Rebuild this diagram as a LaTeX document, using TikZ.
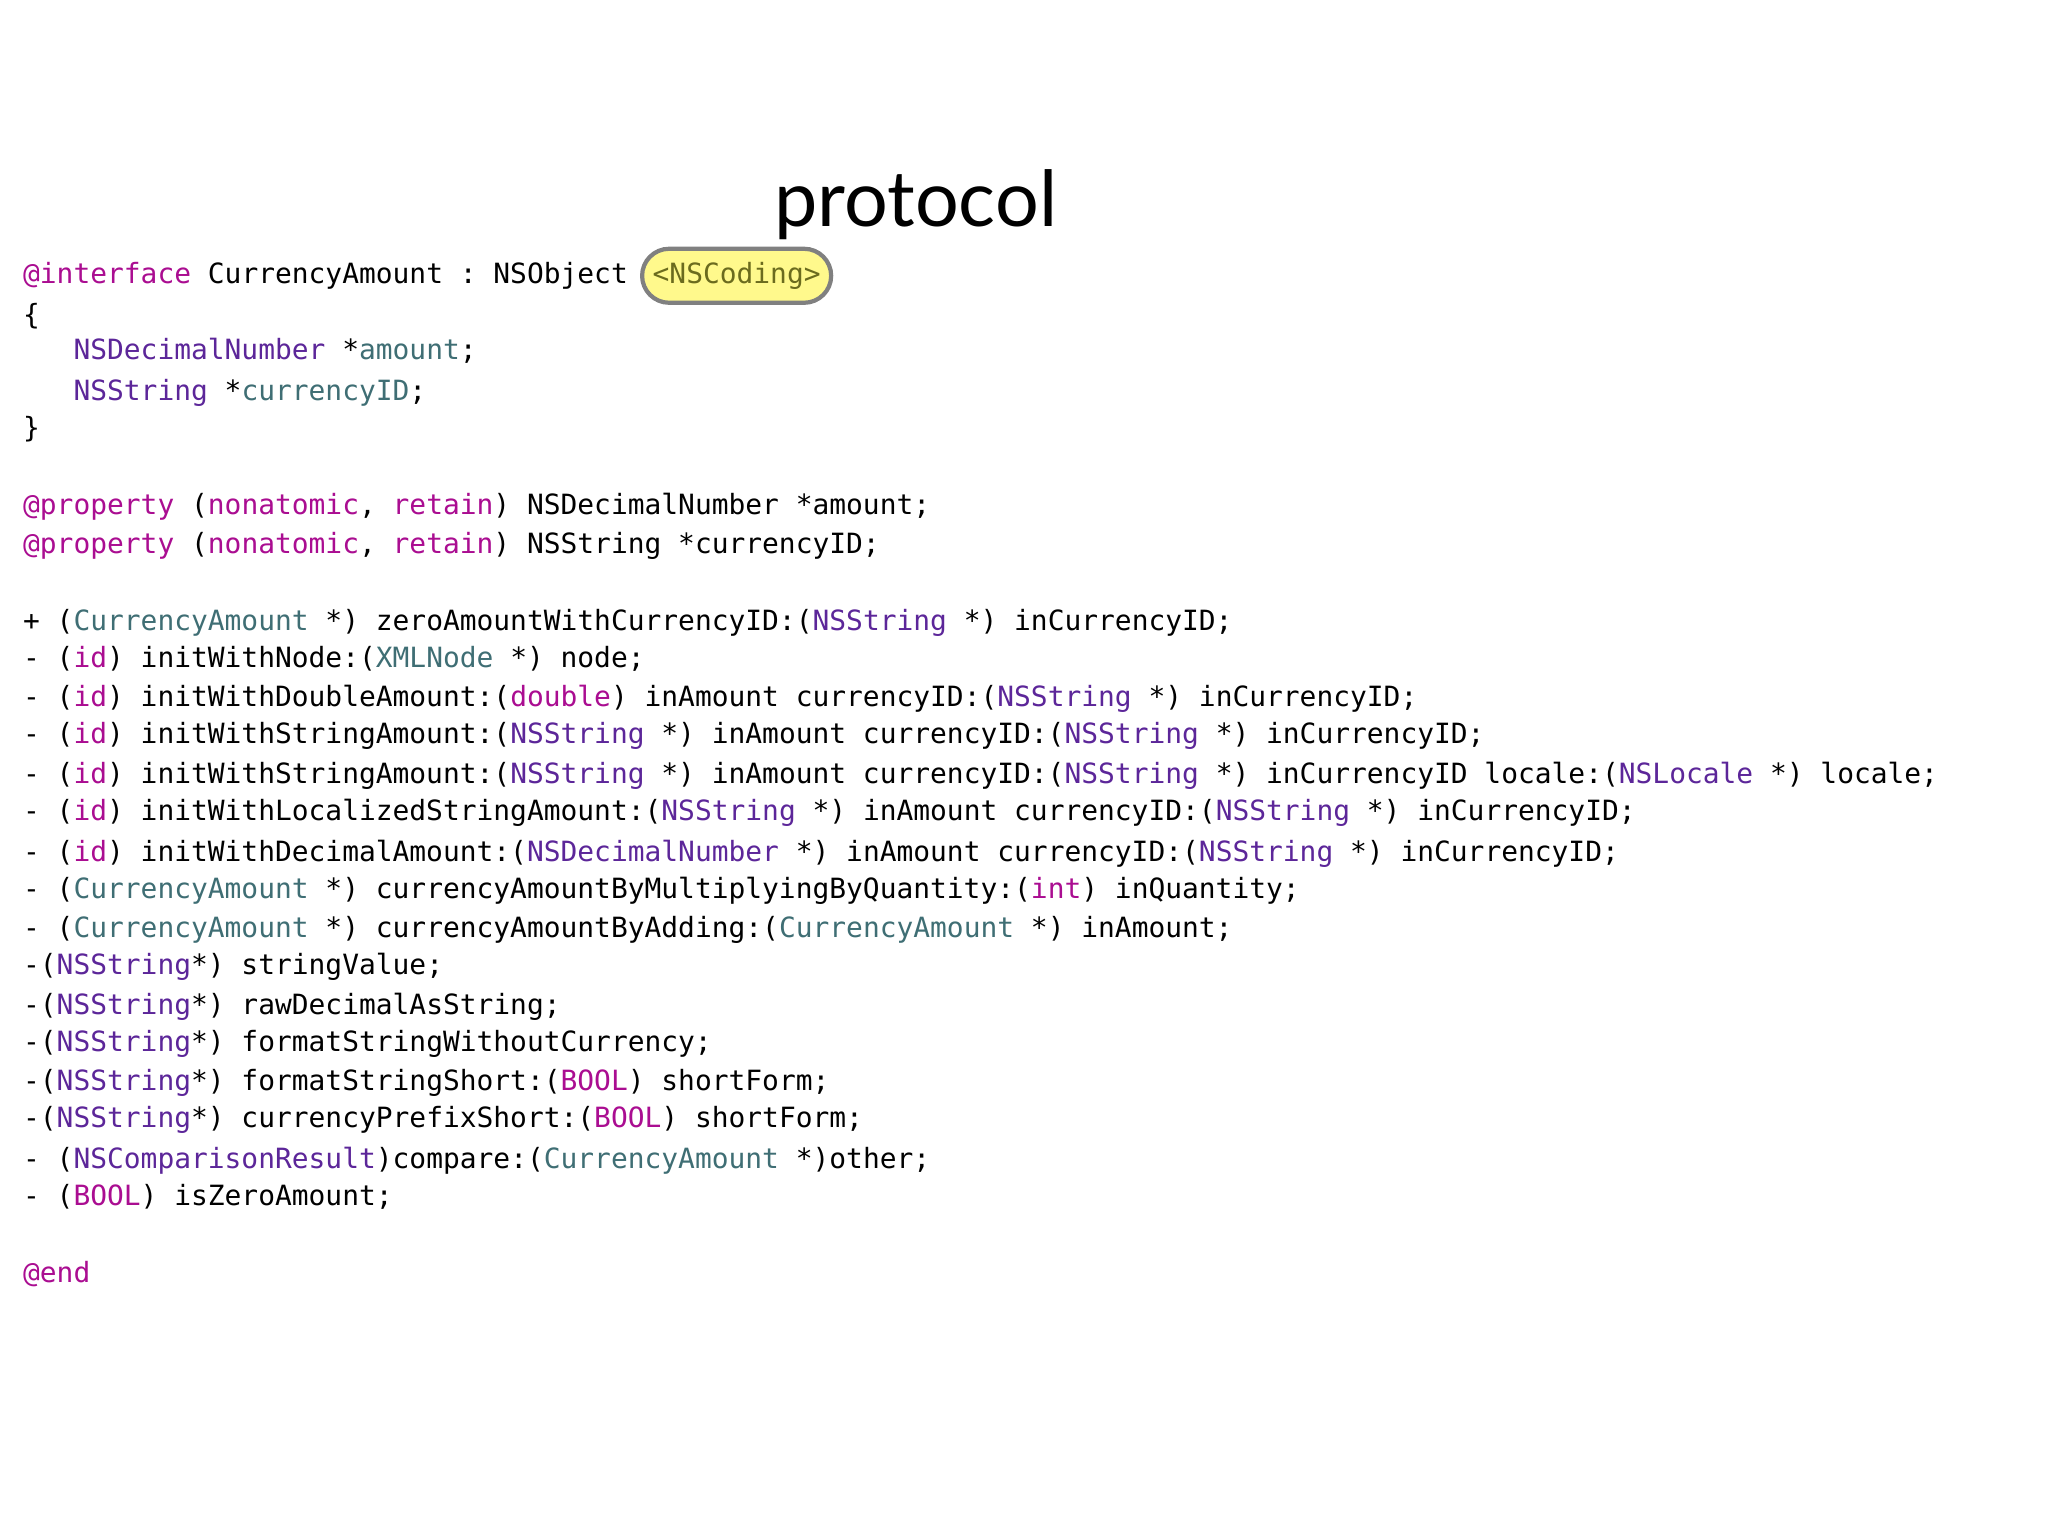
\documentclass[tikz,border=0pt]{standalone}
\usepackage{fontspec}
\setmonofont{DejaVu Sans Mono}
\newfontfamily\titlefont{Lato}
\definecolor{kwc}{HTML}{AA0D91}
\definecolor{clc}{HTML}{5C2699}
\definecolor{pjc}{HTML}{3F6E74}
\definecolor{olv}{HTML}{6B6B1E}
\newcommand{\kw}[1]{\textcolor{kwc}{#1}}
\newcommand{\cl}[1]{\textcolor{clc}{#1}}
\newcommand{\pj}[1]{\textcolor{pjc}{#1}}
\tikzset{code/.style={anchor=mid west,inner sep=0pt,font=\ttfamily\fontsize{7.94pt}{9pt}\selectfont}}
\begin{document}
\begin{tikzpicture}[x=0.013196cm,y=-0.013196cm]
\useasboundingbox (0,0) rectangle (1552,1164);
\node[inner sep=0pt,font=\titlefont\fontsize{22pt}{26pt}\selectfont] (title) at (694,155) {protocol};
\node[code] (l1) at (17,209) {\kw{@interface} CurrencyAmount : NSObject};
\node[code,draw=gray,line width=1.2pt,fill=yellow!45,rounded corners=0.27cm,minimum height=0.54cm,inner xsep=3pt,inner ysep=0pt,text=olv] (proto) at (485,209) {<NSCoding>};
\node[code] (l2) at (17,240) {\{};
\node[code] (l3) at (17,267) {\ \ \ \cl{NSDecimalNumber} *\pj{amount};};
\node[code] (l4) at (17,298) {\ \ \ \cl{NSString} *\pj{currencyID};};
\node[code] (l5) at (17,326) {\}};
\node[code] (l6) at (17,384) {\kw{@property} (\kw{nonatomic}, \kw{retain}) NSDecimalNumber *amount;};
\node[code] (l7) at (17,414) {\kw{@property} (\kw{nonatomic}, \kw{retain}) NSString *currencyID;};
\node[code] (l8) at (17,472) {+ (\pj{CurrencyAmount} *) zeroAmountWithCurrencyID:(\cl{NSString} *) inCurrencyID;};
\node[code] (l9) at (17,500) {- (\kw{id}) initWithNode:(\pj{XMLNode} *) node;};
\node[code] (l10) at (17,530) {- (\kw{id}) initWithDoubleAmount:(\kw{double}) inAmount currencyID:(\cl{NSString} *) inCurrencyID;};
\node[code] (l11) at (17,558) {- (\kw{id}) initWithStringAmount:(\cl{NSString} *) inAmount currencyID:(\cl{NSString} *) inCurrencyID;};
\node[code] (l12) at (17,588) {- (\kw{id}) initWithStringAmount:(\cl{NSString} *) inAmount currencyID:(\cl{NSString} *) inCurrencyID locale:(\cl{NSLocale} *) locale;};
\node[code] (l13) at (17,616) {- (\kw{id}) initWithLocalizedStringAmount:(\cl{NSString} *) inAmount currencyID:(\cl{NSString} *) inCurrencyID;};
\node[code] (l14) at (17,647) {- (\kw{id}) initWithDecimalAmount:(\cl{NSDecimalNumber} *) inAmount currencyID:(\cl{NSString} *) inCurrencyID;};
\node[code] (l15) at (17,675) {- (\pj{CurrencyAmount} *) currencyAmountByMultiplyingByQuantity:(\kw{int}) inQuantity;};
\node[code] (l16) at (17,705) {- (\pj{CurrencyAmount} *) currencyAmountByAdding:(\pj{CurrencyAmount} *) inAmount;};
\node[code] (l17) at (17,733) {-(\cl{NSString}*) stringValue;};
\node[code] (l18) at (17,763) {-(\cl{NSString}*) rawDecimalAsString;};
\node[code] (l19) at (17,791) {-(\cl{NSString}*) formatStringWithoutCurrency;};
\node[code] (l20) at (17,821) {-(\cl{NSString}*) formatStringShort:(\kw{BOOL}) shortForm;};
\node[code] (l21) at (17,849) {-(\cl{NSString}*) currencyPrefixShort:(\kw{BOOL}) shortForm;};
\node[code] (l22) at (17,880) {- (\cl{NSComparisonResult})compare:(\pj{CurrencyAmount} *)other;};
\node[code] (l23) at (17,908) {- (\kw{BOOL}) isZeroAmount;};
\node[code] (l24) at (17,966) {\kw{@end}};
\end{tikzpicture}
\end{document}
